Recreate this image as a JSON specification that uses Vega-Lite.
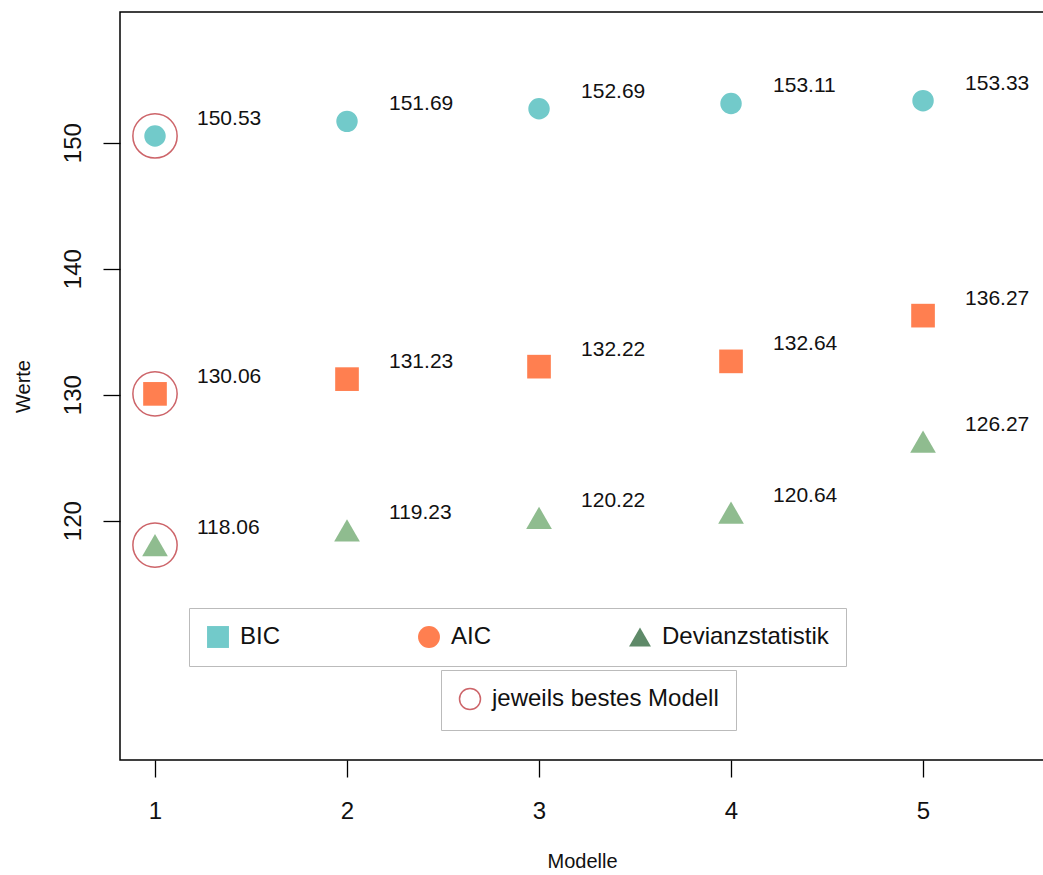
{
  "$schema": "https://vega.github.io/schema/vega-lite/v6.json",
  "width": 924,
  "height": 748,
  "autosize": {"type": "none"},
  "padding": {"left": 120, "top": 12, "right": 0, "bottom": 115},
  "background": "white",
  "config": {
    "font": "Liberation Sans",
    "view": {"stroke": "black", "strokeWidth": 1.5},
    "axis": {
      "grid": false,
      "domain": false,
      "tickColor": "black",
      "tickWidth": 1.3,
      "tickSize": 17,
      "labelColor": "#111",
      "labelFont": "Liberation Sans",
      "labelFontSize": 24,
      "titleFont": "Liberation Sans",
      "titleFontSize": 20,
      "titleFontWeight": "normal",
      "titleColor": "#111"
    },
    "legend": {
      "labelFont": "Liberation Sans",
      "labelFontSize": 24,
      "labelColor": "#111",
      "labelLimit": 500
    }
  },
  "data": {
    "values": [
      {"Modell": 1, "Kriterium": "BIC", "Wert": 150.53, "best": "jeweils bestes Modell"},
      {"Modell": 2, "Kriterium": "BIC", "Wert": 151.69, "best": null},
      {"Modell": 3, "Kriterium": "BIC", "Wert": 152.69, "best": null},
      {"Modell": 4, "Kriterium": "BIC", "Wert": 153.11, "best": null},
      {"Modell": 5, "Kriterium": "BIC", "Wert": 153.33, "best": null},
      {"Modell": 1, "Kriterium": "AIC", "Wert": 130.06, "best": "jeweils bestes Modell"},
      {"Modell": 2, "Kriterium": "AIC", "Wert": 131.23, "best": null},
      {"Modell": 3, "Kriterium": "AIC", "Wert": 132.22, "best": null},
      {"Modell": 4, "Kriterium": "AIC", "Wert": 132.64, "best": null},
      {"Modell": 5, "Kriterium": "AIC", "Wert": 136.27, "best": null},
      {"Modell": 1, "Kriterium": "Devianzstatistik", "Wert": 118.06, "best": "jeweils bestes Modell"},
      {"Modell": 2, "Kriterium": "Devianzstatistik", "Wert": 119.23, "best": null},
      {"Modell": 3, "Kriterium": "Devianzstatistik", "Wert": 120.22, "best": null},
      {"Modell": 4, "Kriterium": "Devianzstatistik", "Wert": 120.64, "best": null},
      {"Modell": 5, "Kriterium": "Devianzstatistik", "Wert": 126.27, "best": null}
    ]
  },
  "encoding": {
    "x": {
      "field": "Modell", "type": "quantitative",
      "scale": {"domain": [0.8177, 5.63], "nice": false, "zero": false},
      "axis": {"values": [1, 2, 3, 4, 5], "title": "Modelle", "labelPadding": 22, "titlePadding": 28, "labelFlush": false}
    },
    "y": {
      "field": "Wert", "type": "quantitative",
      "scale": {"domain": [101.0, 160.37], "nice": false, "zero": false},
      "axis": {"values": [120, 130, 140, 150], "title": "Werte", "labelAngle": -90, "labelPadding": 18, "titlePadding": 28, "labelFlush": false}
    }
  },
  "layer": [
    {
      "mark": {"type": "point", "filled": true, "opacity": 1, "strokeWidth": 0},
      "encoding": {
        "color": {
          "field": "Kriterium", "type": "nominal",
          "scale": {"domain": ["BIC", "AIC", "Devianzstatistik"], "range": ["#72CACA", "#FF7F50", "#8FBC8F"]},
          "legend": null
        },
        "shape": {
          "field": "Kriterium", "type": "nominal",
          "scale": {"domain": ["BIC", "AIC", "Devianzstatistik"], "range": ["circle", "square", "triangle-up"]},
          "legend": null
        },
        "size": {
          "field": "Kriterium", "type": "nominal",
          "scale": {"domain": ["BIC", "AIC", "Devianzstatistik"], "range": [460, 660, 950]},
          "legend": null
        }
      }
    },
    {
      "mark": {"type": "point", "filled": true, "opacity": 0, "size": 0},
      "encoding": {
        "color": {
          "field": "Kriterium", "type": "nominal",
          "scale": {"domain": ["BIC", "AIC", "Devianzstatistik"], "range": ["#72CACA", "#FF7F50", "#5F8A69"]},
          "legend": {
            "title": null, "orient": "none", "legendX": 69, "legendY": 596,
            "direction": "horizontal", "columns": 3, "gridAlign": "all",
            "columnPadding": 10, "padding": 17, "strokeColor": "#BBBBBB",
            "symbolOpacity": 1, "symbolSize": 480, "labelOffset": 10, "symbolStrokeWidth": 0
          }
        },
        "shape": {
          "field": "Kriterium", "type": "nominal",
          "scale": {"domain": ["BIC", "AIC", "Devianzstatistik"], "range": ["square", "circle", "triangle-up"]},
          "legend": {
            "title": null, "orient": "none", "legendX": 69, "legendY": 596,
            "direction": "horizontal", "columns": 3, "gridAlign": "all",
            "columnPadding": 10, "padding": 17, "strokeColor": "#BBBBBB",
            "symbolOpacity": 1, "symbolSize": 480, "labelOffset": 10, "symbolStrokeWidth": 0
          }
        }
      }
    },
    {
      "transform": [{"filter": "datum.best != null"}],
      "mark": {"type": "point", "shape": "circle", "filled": false, "size": 1960, "strokeWidth": 1.5},
      "encoding": {
        "stroke": {
          "field": "best", "type": "nominal",
          "scale": {"domain": ["jeweils bestes Modell"], "range": ["#B8232A"]},
          "legend": {
            "title": null, "orient": "none", "legendX": 321, "legendY": 658,
            "padding": 17, "strokeColor": "#BBBBBB",
            "symbolSize": 440, "symbolStrokeWidth": 1.5, "symbolFillColor": "transparent", "labelOffset": 10
          }
        }
      }
    },
    {
      "mark": {"type": "text", "align": "left", "baseline": "middle", "dx": 42, "dy": -17, "fontSize": 21, "font": "Liberation Sans", "color": "#111"},
      "encoding": {
        "text": {"field": "Wert", "type": "quantitative", "format": ".2f"}
      }
    }
  ],
  "resolve": {"scale": {"color": "independent", "shape": "independent", "size": "independent"}}
}
